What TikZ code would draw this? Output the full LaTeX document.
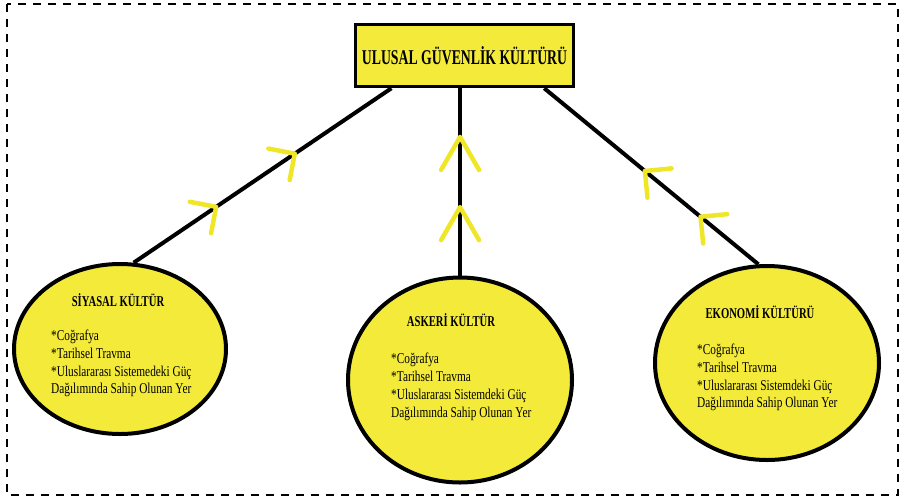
\documentclass[tikz,border=0pt]{standalone}
\usepackage{fontspec}
\setmainfont{Liberation Serif}
\newfontfamily\bodyfont[FakeStretch=0.755]{Liberation Serif}
\newfontfamily\headfont[FakeStretch=0.71]{Liberation Serif}
\newfontfamily\titlefont[FakeStretch=0.655]{Liberation Serif}
\usetikzlibrary{shapes.geometric,decorations.markings,calc}
\definecolor{boxyellow}{RGB}{243,234,58}
\definecolor{chevyellow}{RGB}{240,230,40}
\tikzset{
  frame/.style={draw=black, line width=2pt, dash pattern=on 8pt off 7pt},
  titlebox/.style={rectangle, draw=black, line width=3.5pt, fill=boxyellow,
    minimum width=218pt, minimum height=62pt, inner sep=0pt,
    font=\titlefont\bfseries\fontsize{21}{24}\selectfont},
  cult/.style={ellipse, draw=black, line width=4pt, fill=boxyellow, inner sep=0pt},
  link/.style={draw=black, line width=4pt},
  chevline/.style={draw=chevyellow, line width=4.5pt, line cap=round, line join=round},
  chevwide/.style={postaction={decorate, decoration={markings,
    mark=at position #1 with {\draw[chevline] (19pt,19pt) -- (0pt,0pt) -- (19pt,-19pt);}}}},
  chevnarrow/.style={postaction={decorate, decoration={markings,
    mark=at position #1 with {\draw[chevline] (33pt,19pt) -- (0pt,0pt) -- (33pt,-19pt);}}}},
  subhead/.style={inner sep=0pt, font=\headfont\bfseries\fontsize{15}{17}\selectfont},
  items/.style={inner sep=0pt, align=left, anchor=west,
    font=\bodyfont\fontsize{15}{17.8}\selectfont},
}
\begin{document}
\begin{tikzpicture}[x=1pt,y=-1pt]
\useasboundingbox (0,0) rectangle (904,499);
\draw[frame] (7,4) rectangle (898,495);

\node[titlebox] (t) at (464.5,55.5) {ULUSAL GÜVENLİK KÜLTÜRÜ};

\node[cult, minimum width=212pt, minimum height=170pt] (sy) at (120,349) {};
\node[cult, minimum width=224pt, minimum height=205pt] (as) at (460,380) {};
\node[cult, minimum width=224pt, minimum height=194pt] (ek) at (767,363) {};

\coordinate (t1) at ($(t.south west)!0.17!(t.south east)$);
\coordinate (t2) at ($(t.south west)!0.48!(t.south east)$);
\coordinate (t3) at ($(t.south west)!0.86!(t.south east)$);

\draw[link, chevwide=0.375, chevwide=0.68] (t1) -- (sy.81);
\draw[link, chevnarrow=0.26, chevnarrow=0.635] (t2) -- (t2 |- as.north);
\draw[link, chevwide=0.47, chevwide=0.73] (t3) -- (ek.95);

\node[subhead] (syh) at (118,300) {SİYASAL KÜLTÜR};
\node[items] (syi) at (51,363.5) {*Coğrafya\\*Tarihsel Travma\\*Uluslararası Sistemedeki Güç\\Dağılımında Sahip Olunan Yer};

\node[subhead] (ash) at (451,320) {ASKERİ KÜLTÜR};
\node[items] (asi) at (391,387) {*Coğrafya\\*Tarihsel Travma\\*Uluslararası Sistemdeki Güç\\Dağılımında Sahip Olunan Yer};

\node[subhead] (ekh) at (760,312) {EKONOMİ KÜLTÜRÜ};
\node[items] (eki) at (697,377.5) {*Coğrafya\\*Tarihsel Travma\\*Uluslararası Sistemdeki Güç\\Dağılımında Sahip Olunan Yer};
\end{tikzpicture}
\end{document}
